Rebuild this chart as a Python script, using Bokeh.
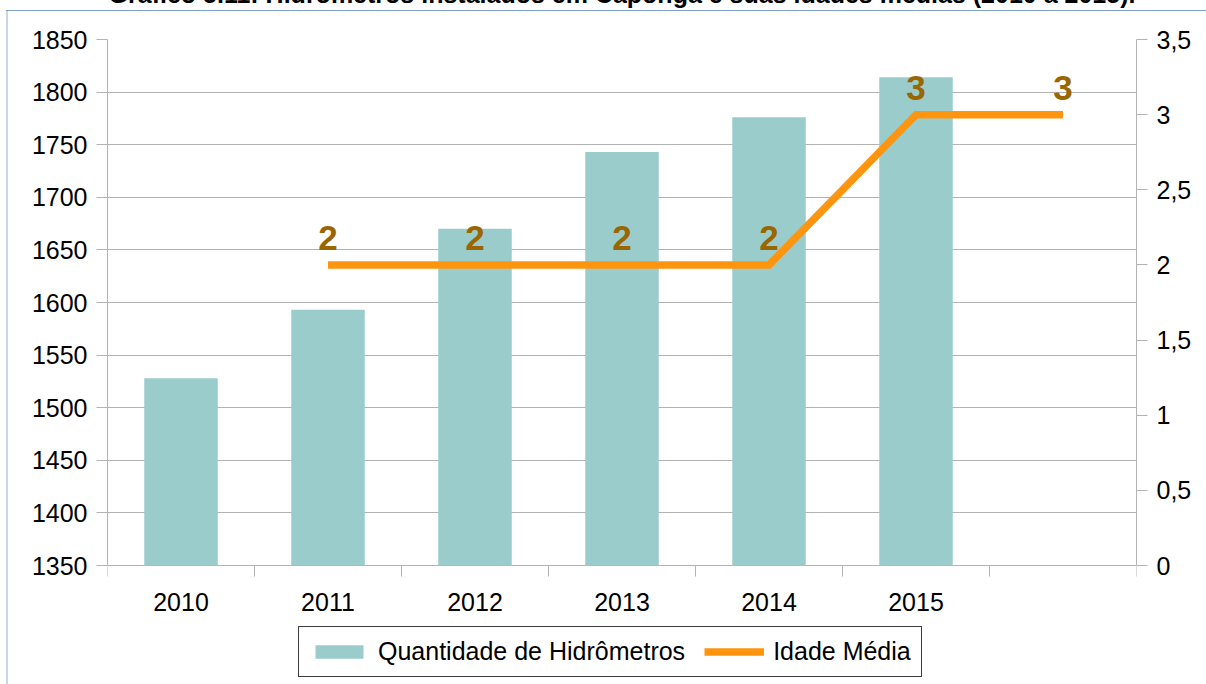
from bokeh.plotting import figure
from bokeh.models import (Range1d, LinearAxis, FixedTicker,
                          CustomJSTickFormatter, Legend, LegendItem, ColumnDataSource)
from bokeh.core.properties import value
from bokeh.embed import file_html
from bokeh.resources import INLINE

# ---------------- data ----------------
titulo = "Gráfico 5.11: Hidrômetros instalados em Caponga e suas idades médias (2010 a 2015)."
anos = ["2010", "2011", "2012", "2013", "2014", "2015", ""]
hidrometros = [1528, 1593, 1670, 1743, 1776, 1814]          # 2010..2015
idade_media = [2, 2, 2, 2, 3, 3]                            # 2011..(blank)
idade_rotulos = ["2", "2", "2", "2", "3", "3"]
serie_barras = "Quantidade de Hidrômetros"
serie_linha = "Idade Média"
y_esq_ticks = [1350, 1400, 1450, 1500, 1550, 1600, 1650, 1700, 1750, 1800, 1850]
y_dir_ticks = [0, 0.5, 1, 1.5, 2, 2.5, 3, 3.5]

# ---------------- layout ----------------
FONT = "Liberation Sans"
GRAY = "#b3b3b3"
M = 60                      # canvas hidden above the window (title is cut off there)
W, H = 1206, 684 + M
TOP_PX, BASE_PX = 39, 565   # window rows of the top gridline and of the baseline
below_px = 684 - BASE_PX    # room under the baseline for year labels and legend


def extend(lo, hi):
    """data range whose [lo, hi] part maps onto rows TOP_PX..BASE_PX"""
    return Range1d(lo - below_px * (hi - lo) / (BASE_PX - TOP_PX), hi)


idx_bar = list(range(len(hidrometros)))
idx_line = list(range(1, 1 + len(idade_media)))
limites = [i - 0.5 for i in range(len(anos) + 1)]

# outer chart border (top and left edges show in the window) painted behind the canvas
frame_css = (f"linear-gradient(#809ec4, #809ec4) 6px {10 + M}px / 100% 1px no-repeat, "
             f"linear-gradient(#c8d6e8, #c8d6e8) 6px {10 + M}px / 2px 100% no-repeat, "
             "white")

p = figure(width=W, height=H, output_backend="svg", toolbar_location=None,
           x_range=Range1d(-0.5, len(anos) - 0.5),
           y_range=extend(y_esq_ticks[0], y_esq_ticks[-1]),
           min_border_left=107, min_border_right=70,
           min_border_top=TOP_PX + M, min_border_bottom=0,
           styles={"margin-top": f"-{M}px", "background": frame_css})
p.extra_y_ranges = {"idade": extend(y_dir_ticks[0], y_dir_ticks[-1])}
p.outline_line_color = None
p.background_fill_color = "white"
p.border_fill_color = None

# title (mostly cut off at the top, as in the reference)
p.title.text = titulo
p.title.align = "center"
p.title.text_font = FONT
p.title.text_font_size = "25px"
p.title.text_font_style = "bold"
p.title.text_color = "black"
p.title.standoff = 64

# left axis
ya = p.yaxis[0]
ya.ticker = FixedTicker(ticks=y_esq_ticks)
ya.bounds = (y_esq_ticks[0], y_esq_ticks[-1])
ya.axis_line_color = GRAY
ya.major_tick_line_color = GRAY
ya.major_tick_out = 11
ya.major_tick_in = 0
ya.minor_tick_line_color = None
ya.major_label_text_font = FONT
ya.major_label_text_font_size = "25px"
ya.major_label_text_color = "black"
ya.major_label_standoff = 9

p.ygrid.ticker = FixedTicker(ticks=y_esq_ticks)
p.ygrid.grid_line_color = GRAY
p.xgrid.grid_line_color = None
p.xaxis.visible = False

# right axis
yr = LinearAxis(y_range_name="idade",
                ticker=FixedTicker(ticks=y_dir_ticks),
                bounds=(y_dir_ticks[0], y_dir_ticks[-1]),
                formatter=CustomJSTickFormatter(code="return tick.toString().replace('.', ',');"))
yr.axis_line_color = GRAY
yr.major_tick_line_color = GRAY
yr.major_tick_out = 11
yr.major_tick_in = 0
yr.minor_tick_line_color = None
yr.major_label_text_font = FONT
yr.major_label_text_font_size = "25px"
yr.major_label_text_color = "black"
yr.major_label_standoff = 9
p.add_layout(yr, "right")

# category axis: tick marks at the category boundaries, year labels at centres
p.ray(x=limites, y=y_esq_ticks[0], length=11, length_units="screen",
      angle=-90, angle_units="deg", line_color=GRAY, line_width=1)
p.text(x=idx_bar, y=y_esq_ticks[0], text=anos[:len(idx_bar)],
       text_align="center", text_baseline="alphabetic", y_offset=36,
       text_font=value(FONT), text_font_size="25px", text_color="black")

# bars
src_b = ColumnDataSource(dict(x=idx_bar, top=hidrometros, ano=anos[:len(hidrometros)]))
bars = p.vbar(x="x", top="top", bottom=y_esq_ticks[0], width=0.5, source=src_b,
              fill_color="#9bcccc", line_color=None)

# line + value labels
src_l = ColumnDataSource(dict(x=idx_line, y=idade_media, rot=idade_rotulos))
ln = p.line("x", "y", source=src_l, y_range_name="idade",
            line_color="#ff950e", line_width=7.5, line_join="miter")
p.text("x", "y", text="rot", source=src_l, y_range_name="idade",
       text_align="center", text_baseline="alphabetic", y_offset=-27,
       text_font=value(FONT), text_font_size="35px", text_font_style="bold",
       text_color="#996600")

# legend under the year labels
legend = Legend(items=[LegendItem(label=serie_barras, renderers=[bars]),
                       LegendItem(label=serie_linha, renderers=[ln])],
                orientation="horizontal", location=(191, 7),
                label_text_font=FONT, label_text_font_size="25px",
                label_text_color="black",
                glyph_width=60, glyph_height=17, label_standoff=9, spacing=19,
                padding=10, margin=0,
                border_line_color="#3c3c3c", border_line_width=1,
                border_line_alpha=1,
                background_fill_color="white", background_fill_alpha=1)
p.add_layout(legend, "center")

open("out.html", "w").write(file_html(p, INLINE))
